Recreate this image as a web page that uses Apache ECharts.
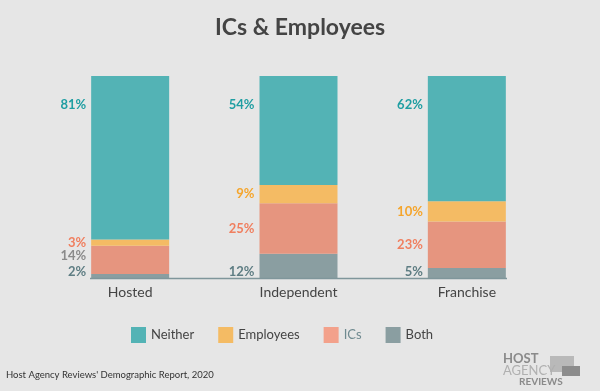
<!DOCTYPE html>
<html>
<head>
<meta charset="utf-8">
<script src="https://cdn.jsdelivr.net/npm/echarts@6/dist/echarts.min.js"></script>
<style>
html,body{margin:0;padding:0;background:#e6e6e6;}
#chart{width:600px;height:391px;}
</style>
</head>
<body>
<div id="chart"></div>
<script>
// ---- data ----
var categories = ['Hosted', 'Independent', 'Franchise'];
var seriesNames = ['Neither', 'Employees', 'ICs', 'Both'];
var neither = [81, 54, 62];
var employees = [3, 9, 10];
var ics = [14, 25, 23];
var both = [2, 12, 5];
var titleText = 'ICs & Employees';
var sourceText = "Host Agency Reviews' Demographic Report, 2020";

// ---- styles ----
var FONT = 'Lato, "Open Sans", sans-serif';
var barColors = {Neither:'#53b3b5', Employees:'#f4bb64', ICs:'#e6957f', Both:'#8a9ea1'};
var legendColors = {Neither:'#53b3b5', Employees:'#f4bb64', ICs:'#f3a18b', Both:'#8a9ea1'};
var labelColors = {Neither:'#1f9ea2', Employees:'#f5a52c', ICs:'#f07f5f', Both:'#5e7d83'};
// per-item label overrides (style only) keyed by series, category index
var labelOverrides = {
  Employees: {0: {color: '#f07f5f'}},
  ICs: {0: {color: '#8a8a8a', offset: [0, -4]}}
};

var chart = echarts.init(document.getElementById('chart'), null, {renderer: 'canvas'});

function fmt(p){ return p.value + '%'; }

function buildData(name, values){
  return values.map(function(v, i){
    var o = labelOverrides[name] && labelOverrides[name][i];
    if (!o) return v;
    return {value: v, label: o};
  });
}

function labelFor(name){
  var base = {
    show: true, formatter: fmt, fontFamily: FONT, fontWeight: 'bold',
    fontSize: 13, color: labelColors[name]
  };
  if (name === 'Neither') {
    base.position = [-5, 29]; base.align = 'right'; base.verticalAlign = 'middle';
  } else if (name === 'Both') {
    base.position = [-5, '100%']; base.align = 'right'; base.verticalAlign = 'middle';
    base.offset = [0, -6.5];
  } else {
    base.position = 'left'; base.distance = 5;
  }
  return base;
}

var valuesByName = {Neither: neither, Employees: employees, ICs: ics, Both: both};
var order = ['Both', 'ICs', 'Employees', 'Neither'];
var series = order.map(function(name){
  return {
    name: name, type: 'bar', stack: 'total', barWidth: 78,
    itemStyle: {color: barColors[name]},
    label: labelFor(name),
    emphasis: {disabled: true},
    data: buildData(name, valuesByName[name])
  };
});

var option = {
  backgroundColor: '#e6e6e6',
  animation: false,
  title: {
    text: titleText, left: 'center', top: 11,
    textStyle: {fontFamily: FONT, fontWeight: 'bold', fontSize: 23, color: '#444'}
  },
  legend: {
    left: 131, top: 327, padding: 0, itemWidth: 15, itemHeight: 16, itemGap: 24,
    icon: 'rect',
    textStyle: {fontFamily: FONT, fontSize: 13, color: '#444'},
    data: seriesNames.map(function(n){
      var d = {name: n, itemStyle: {color: legendColors[n]}};
      if (n === 'ICs') d.textStyle = {color: '#6f8a90'};
      return d;
    })
  },
  grid: {left: 46, right: 49, top: 76, bottom: 113},
  xAxis: {
    type: 'category', data: categories,
    axisLine: {show: false}, axisTick: {show: false},
    axisLabel: {fontFamily: FONT, fontSize: 14, color: '#444', margin: 7}
  },
  yAxis: {
    type: 'value', min: 0, max: 100, show: false
  },
  series: series,
  graphic: [
    {type: 'line', shape: {x1: 90, y1: 278.5, x2: 507, y2: 278.5},
     style: {stroke: '#7f969b', lineWidth: 1.5}, z: 10},
    {type: 'text', left: 6, top: 370,
     style: {text: sourceText, font: '9.5px ' + FONT, fill: '#333'}},
    {type: 'rect', shape: {x: 550, y: 356, width: 24, height: 16}, style: {fill: '#b9b9b9'}},
    {type: 'rect', shape: {x: 562, y: 366, width: 18, height: 10}, style: {fill: '#8c8c8c'}},
    {type: 'text', left: 503, top: 352,
     style: {text: 'HOST', font: 'bold 13px ' + FONT, fill: '#8a8a8a', letterSpacing: 2.5}},
    {type: 'text', left: 503, top: 364,
     style: {text: 'AGENCY', font: '13px "Liberation Sans Narrow", ' + FONT, fill: '#b0b0b0', letterSpacing: 1.5}},
    {type: 'text', left: 519, top: 377,
     style: {text: 'REVIEWS', font: 'bold 10px ' + FONT, fill: '#8a8a8a'}}
  ]
};
chart.setOption(option);
</script>
</body>
</html>
